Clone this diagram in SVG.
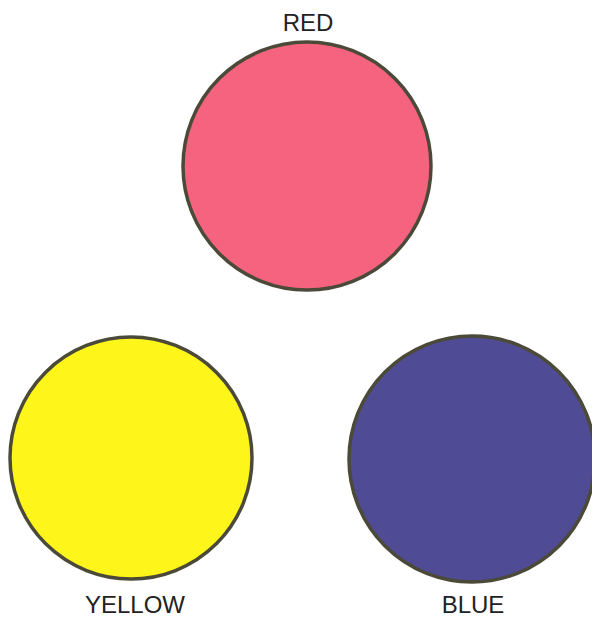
<svg xmlns="http://www.w3.org/2000/svg" width="592" height="618" viewBox="0 0 592 618">
<style>
.c{stroke:#4b4a38;stroke-width:3.5}
.t{font-family:"Liberation Sans",Arial,sans-serif;font-size:24px;fill:#222;text-anchor:middle}
</style>
<rect width="592" height="618" fill="#ffffff"/>
<g id="red">
<circle class="c" cx="307" cy="166" r="124" fill="#f5637f"/>
<text class="t" x="308" y="31">RED</text>
</g>
<g id="yellow">
<circle class="c" cx="131" cy="458" r="121" fill="#fef51a"/>
<text class="t" x="135" y="613">YELLOW</text>
</g>
<g id="blue">
<circle class="c" cx="472" cy="459" r="123" fill="#4f4b94"/>
<text class="t" x="473" y="613">BLUE</text>
</g>
<g id="connectors"/>
</svg>
